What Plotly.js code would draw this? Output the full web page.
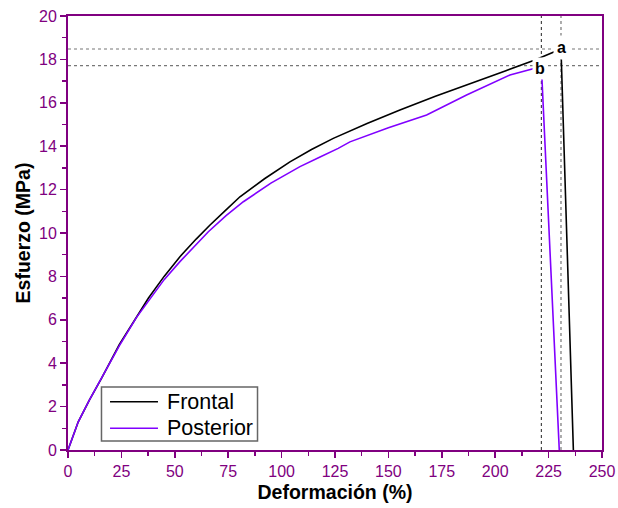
<!DOCTYPE html>
<html>
<head>
<meta charset="utf-8">
<script src="https://cdn.plot.ly/plotly-3.0.1.min.js"></script>
<style>html,body{margin:0;padding:0;background:#fff;}#chart{width:618px;height:508px;}</style>
</head>
<body>
<div id="chart"></div>
<script>
// Data (Deformación %, Esfuerzo MPa)
const frontalX = [0, 4.8, 10, 15.8, 24, 32, 37.6, 45, 52.4, 60, 66.5, 73, 80.5, 92, 103.9, 114, 124.2, 140, 155.4, 172, 191.3, 205, 218.6, 230.8, 236.6];
const frontalY = [0, 1.3, 2.3, 3.32, 4.85, 6.14, 6.99, 8.0, 8.91, 9.72, 10.37, 10.97, 11.67, 12.5, 13.28, 13.85, 14.36, 15.05, 15.67, 16.3, 16.97, 17.48, 17.97, 18.48, 0];
const posteriorX = [0, 4.8, 10, 15.8, 24, 32, 38.4, 45, 52.4, 60, 65.7, 74, 82.1, 95, 108.6, 118, 126.5, 132, 150, 167.9, 186.6, 206.9, 218.6, 221.6, 230];
const posteriorY = [0, 1.3, 2.3, 3.32, 4.8, 6.1, 6.99, 7.85, 8.68, 9.47, 10.06, 10.8, 11.44, 12.3, 13.06, 13.5, 13.9, 14.2, 14.85, 15.44, 16.36, 17.28, 17.59, 17.71, 0];
const seriesNames = ["Frontal", "Posterior"];
const seriesColors = ["#000000", "#8000ff"];
const peakLabels = ["a", "b"];

function peak(xs, ys) {
  let i = 0;
  ys.forEach((v, k) => { if (v > ys[i]) i = k; });
  return {x: xs[i], y: ys[i]};
}
const pA = peak(frontalX, frontalY);
const pB = peak(posteriorX, posteriorY);

const FONT = "Liberation Sans, Arial, sans-serif";
const purple = "#800080";
const traces = [
  {x: frontalX, y: frontalY, name: seriesNames[0], mode: "lines", line: {color: seriesColors[0], width: 1.6}},
  {x: posteriorX, y: posteriorY, name: seriesNames[1], mode: "lines", line: {color: seriesColors[1], width: 1.6}}
];

const shapes = [
  {type: "line", xref: "paper", yref: "y", x0: 0, x1: 1, y0: pA.y, y1: pA.y, line: {color: "#777", width: 1.2, dash: "3px,3px"}, layer: "below"},
  {type: "line", xref: "paper", yref: "y", x0: 0, x1: 1, y0: pB.y, y1: pB.y, line: {color: "#777", width: 1.2, dash: "3px,3px"}, layer: "below"},
  {type: "line", xref: "x", yref: "paper", x0: pB.x, x1: pB.x, y0: 0, y1: 1, line: {color: "#222", width: 1, dash: "3px,3px"}, layer: "below"},
  {type: "line", xref: "x", yref: "paper", x0: pA.x, x1: pA.x, y0: 0, y1: 1, line: {color: "#999", width: 1.6, dash: "3px,3px"}, layer: "below"}
];

const annotations = [
  {x: pA.x, y: pA.y, xref: "x", yref: "y", text: "<b>" + peakLabels[0] + "</b>", showarrow: false, font: {family: FONT, size: 16, color: "#000"}, bgcolor: "#fff", borderpad: 3, xshift: 1, yshift: 1},
  {x: pB.x, y: pB.y, xref: "x", yref: "y", text: "<b>" + peakLabels[1] + "</b>", showarrow: false, font: {family: FONT, size: 16, color: "#000"}, bgcolor: "#fff", borderpad: 2, xshift: -1, yshift: -3}
];

// Legend box (drawn manually to match the compact original legend)
const legBox = {x0: 0.0627, x1: 0.3549, y0: 0.0207, y1: 0.1452};
const legRows = [0.1113, 0.0500];
const legLine = {x0: 0.0787, x1: 0.1685};
const legTextX = 0.1815;
shapes.push({type: "rect", xref: "paper", yref: "paper", x0: legBox.x0, x1: legBox.x1, y0: legBox.y0, y1: legBox.y1,
  fillcolor: "#fff", line: {color: "#666", width: 1.5}, layer: "above"});
seriesNames.forEach((n, i) => {
  shapes.push({type: "line", xref: "paper", yref: "paper", x0: legLine.x0, x1: legLine.x1, y0: legRows[i], y1: legRows[i],
    line: {color: seriesColors[i], width: 1.6}, layer: "above"});
  annotations.push({xref: "paper", yref: "paper", x: legTextX, y: legRows[i], xanchor: "left", yanchor: "middle",
    text: n, showarrow: false, font: {family: FONT, size: 21.5, color: "#000"}});
});

const axisCommon = {
  showline: true, linecolor: purple, linewidth: 2, mirror: true,
  ticks: "outside", ticklen: 6, tickwidth: 1.5, tickcolor: purple,
  tickfont: {family: FONT, size: 16, color: purple},
  showgrid: false, zeroline: false
};

const layout = {
  width: 618, height: 508,
  margin: {l: 68, r: 16, t: 16, b: 58},
  paper_bgcolor: "#fff", plot_bgcolor: "#fff",
  font: {family: FONT},
  xaxis: Object.assign({}, axisCommon, {
    range: [0, 250], tickmode: "linear", tick0: 0, dtick: 25,
    minor: {dtick: 12.5, ticks: "outside", ticklen: 4, tickwidth: 1.5, tickcolor: purple},
    title: {text: "<b>Deformación (%)</b>", font: {size: 19.5, color: "#000"}, standoff: 6}
  }),
  yaxis: Object.assign({}, axisCommon, {
    range: [0, 20], tickmode: "linear", tick0: 0, dtick: 2,
    minor: {dtick: 1, ticks: "outside", ticklen: 4, tickwidth: 1.5, tickcolor: purple},
    title: {text: "<b>Esfuerzo (MPa)</b>", font: {size: 19.5, color: "#000"}, standoff: 3}
  }),
  showlegend: false,
  shapes: shapes,
  annotations: annotations
};

Plotly.newPlot("chart", traces, layout, {displayModeBar: false, staticPlot: true});
</script>
</body>
</html>
